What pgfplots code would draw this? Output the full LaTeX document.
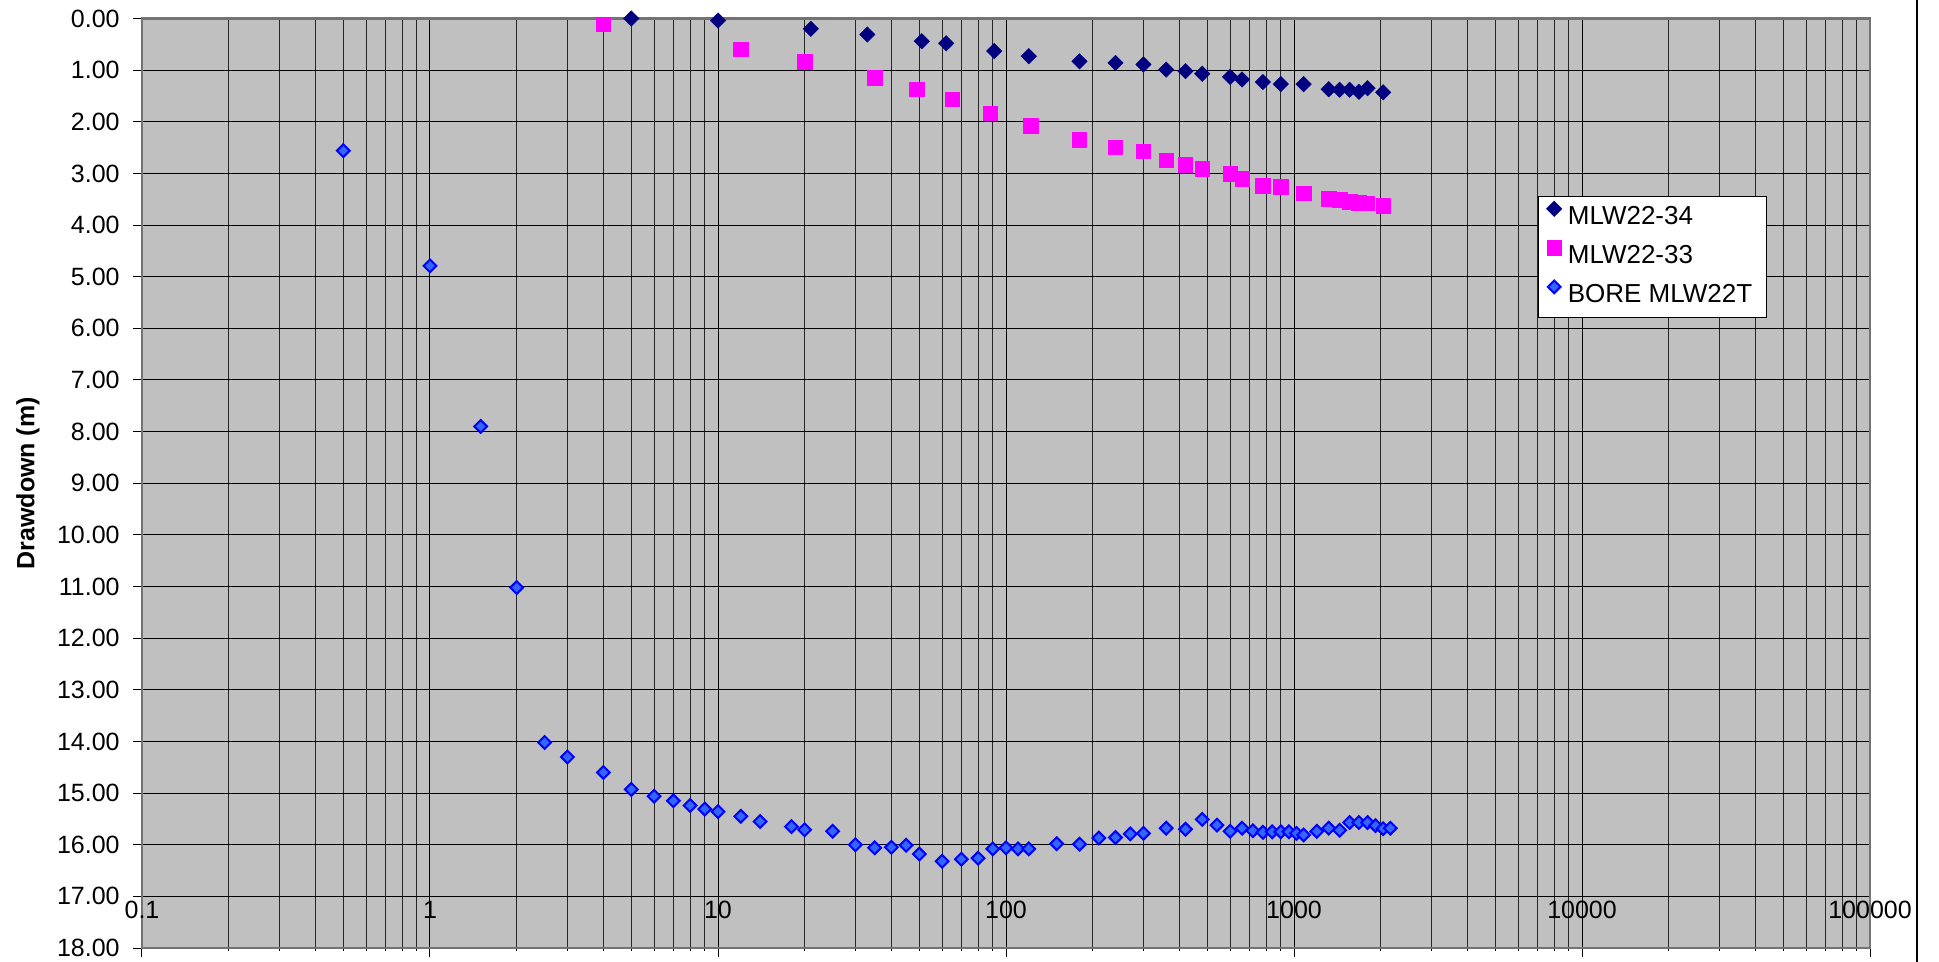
\documentclass[border=0pt]{standalone}
\usepackage{fontspec}
\setmainfont{Liberation Sans}
\usepackage{pgfplots}
\pgfplotsset{compat=1.18}
\definecolor{navyc}{RGB}{0,0,128}
\definecolor{magc}{RGB}{255,0,255}
\definecolor{borefill}{RGB}{51,102,255}
\definecolor{boreedge}{RGB}{0,0,255}
\definecolor{silverbg}{RGB}{192,192,192}
\begin{document}
\begin{tikzpicture}[x=1pt,y=1pt]
\path[use as bounding box] (0,0) rectangle (969.5,481);
\begin{axis}[
  at={(71pt,7pt)}, anchor=south west,
  scale only axis, width=864pt, height=464.75pt,
  xmode=log, xmin=0.1, xmax=100000,
  ymin=0, ymax=18, y dir=reverse,
  axis background/.style={fill=silverbg},
  xtick={0.1,1,10,100,1000,10000,100000},
  xticklabels={0.1,1,10,100,1000,10000,100000},
  minor xtick={0.2,0.3,0.4,0.5,0.6,0.7,0.8,0.9,2,3,4,5,6,7,8,9,20,30,40,50,60,70,80,90,200,300,400,500,600,700,800,900,2000,3000,4000,5000,6000,7000,8000,9000,20000,30000,40000,50000,60000,70000,80000,90000},
  ytick={0,1,...,18},
  /pgf/number format/assume math mode=true,
  grid=both,
  major grid style={black, line width=0.5pt},
  minor grid style={black!85, line width=0.5pt},
  tick align=outside,
  xtick pos=lower, ytick pos=left,
  major tick length=4.5pt, minor tick length=1.5pt,
  x tick style={black, line width=0.5pt},
  y tick style={black, line width=0.5pt},
  axis line style={draw=black!55, line width=1.4pt},
  tick label style={font=\fontsize{12.5}{15}\selectfont, black},
  xticklabel style={anchor=center, yshift=23.75pt},
  yticklabel style={anchor=east, inner sep=0pt, xshift=-6.5pt, /pgf/number format/fixed, /pgf/number format/fixed zerofill, /pgf/number format/precision=2},
  ylabel={Drawdown (m)},
  ylabel style={at={(axis description cs:-0.066,0.5)}, anchor=center, font=\fontsize{12.5}{15}\selectfont\bfseries},
  legend style={at={(0.8079,0.809)}, anchor=north west, draw=black, line width=0.5pt, fill=white,
    font=\fontsize{13}{15}\selectfont, inner xsep=4pt, inner ysep=1pt, row sep=0pt,
    nodes={inner xsep=3pt, inner ysep=3pt, text height=10pt, text depth=3.5pt}},
  legend cell align=left,
  legend image code/.code={\draw[mark repeat=2,mark phase=2,#1] plot coordinates {(0pt,4.6pt) (4.5pt,4.6pt) (9pt,4.6pt)};},
]
\addplot[only marks, mark=square*, mark size=2.7pt, mark options={rotate=45, fill=navyc, draw=navyc, line width=0.3pt}]
table {
x y
5 0.00
10 0.04
21 0.20
33 0.31
51 0.44
62 0.48
91 0.63
120 0.73
180 0.83
240 0.86
300 0.89
360 0.99
420 1.02
480 1.07
600 1.13
660 1.18
780 1.23
900 1.27
1080 1.27
1320 1.37
1440 1.38
1560 1.38
1680 1.42
1800 1.35
2040 1.43
};
\addlegendentry{MLW22-34}
\addplot[only marks, mark=square*, mark size=3.6pt, mark options={fill=magc, draw=magc, line width=0.25pt}]
table {
x y
4 0.11
12 0.59
20 0.84
35 1.15
49 1.37
65 1.56
88 1.84
122 2.08
180 2.35
240 2.49
300 2.57
360 2.75
420 2.83
480 2.91
600 3.01
660 3.10
780 3.24
900 3.26
1080 3.38
1320 3.49
1440 3.51
1560 3.55
1680 3.57
1800 3.58
2040 3.63
};
\addlegendentry{MLW22-33}
\addplot[only marks, mark=square*, mark size=2.25pt, mark options={rotate=45, fill=borefill, draw=boreedge, line width=1pt}]
table {
x y
0.5 2.56
1 4.79
1.5 7.90
2 11.02
2.5 14.02
3 14.30
4 14.60
5 14.93
6 15.06
7 15.15
8 15.24
9 15.31
10 15.36
12 15.45
14 15.55
18 15.65
20 15.71
25 15.74
30 16.00
35 16.06
40 16.05
45 16.01
50 16.18
60 16.32
70 16.28
80 16.26
90 16.08
100 16.06
110 16.08
120 16.08
150 15.98
180 15.99
210 15.87
240 15.86
270 15.79
300 15.78
360 15.68
420 15.70
480 15.51
540 15.62
600 15.74
660 15.68
720 15.73
780 15.76
840 15.75
900 15.75
960 15.75
1020 15.78
1080 15.81
1200 15.74
1320 15.68
1440 15.72
1560 15.57
1680 15.57
1800 15.57
1920 15.63
2040 15.69
2160 15.68
};
\addlegendentry{BORE MLW22T}
\end{axis}
\draw[black, line width=0.6pt] (958.5,0) -- (958.5,481);
\end{tikzpicture}
\end{document}
